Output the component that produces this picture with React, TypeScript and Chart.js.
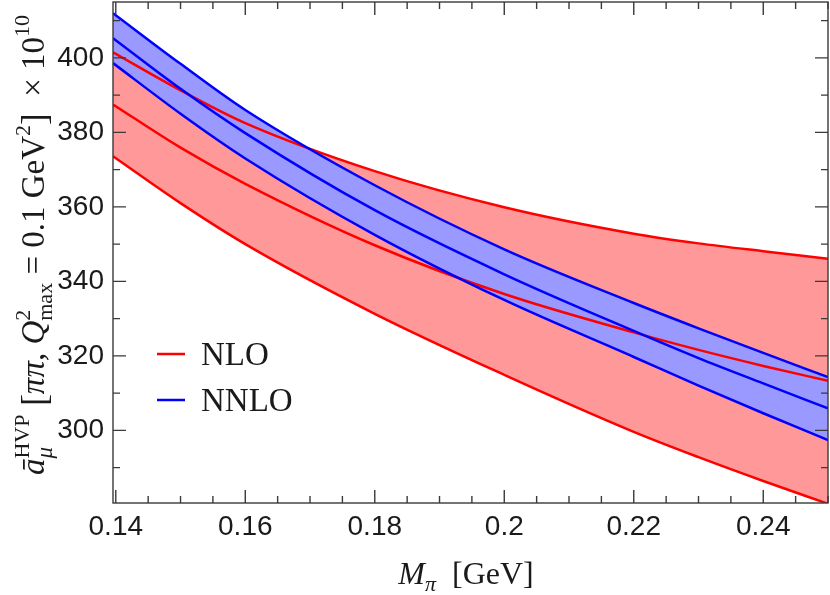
import { useEffect, useRef } from "react"
import { Chart, registerables, type ChartConfiguration, type Plugin } from "chart.js"

Chart.register(...registerables)

// pion mass grid (GeV) and band edges (x 10^10)
const mPi = [0.13957, 0.15, 0.16, 0.18, 0.2, 0.22, 0.23, 0.24, 0.25]

const nloUpper = [401.5, 391.3, 382.5, 369.6, 359.9, 352.8, 350.2, 348.1, 346.1]
const nloCentral = [387.5, 375.9, 366.2, 349.7, 336.6, 326.3, 321.6, 317.3, 313.3]
const nloLower = [373.6, 361.0, 350.0, 331.3, 314.9, 299.6, 292.8, 286.4, 280.3]

const nnloUpper = [412.0, 398.4, 386.0, 365.8, 348.6, 334.2, 327.4, 320.8, 314.3]
const nnloCentral = [405.3, 391.7, 379.8, 359.1, 341.9, 326.7, 319.4, 312.6, 305.9]
const nnloLower = [398.6, 385.0, 373.0, 352.5, 335.0, 319.7, 312.0, 304.6, 297.4]

const xTicks = [0.14, 0.16, 0.18, 0.2, 0.22, 0.24]
const yTicks = [300, 320, 340, 360, 380, 400]
const xMinorTicks = Array.from({ length: 23 }, (_, i) => +(0.14 + i * 0.005).toFixed(3))
const yMinorTicks = [290, 300, 310, 320, 330, 340, 350, 360, 370, 380, 390, 400, 410]
const legendOrder = ["NLO", "NNLO"]

const RED = "#ff0000"
const BLUE = "#0000ff"
const RED_FILL = "#ff9999"
const BLUE_FILL = "#9999ff"
const TEXT = "#1a1a1a"
const SANS = "'Liberation Sans', Arial, sans-serif"
const SERIF = "'Liberation Serif', 'Times New Roman', serif"

const pts = (ys: number[]) => mPi.map((x, i) => ({ x, y: ys[i] }))

type Part = { text: string; font: string; dy?: number; stack?: boolean }

function drawRich(ctx: CanvasRenderingContext2D, parts: Part[]) {
  // lay out left to right, "stack" parts start where the previous one started
  let x = 0
  let prevStart = 0
  let prevW = 0
  const placed: { p: Part; x: number }[] = []
  for (const p of parts) {
    ctx.font = p.font
    const w = ctx.measureText(p.text).width
    if (p.stack) {
      placed.push({ p, x: prevStart })
      prevW = Math.max(prevW, w)
      x = prevStart + prevW
    } else {
      placed.push({ p, x })
      prevStart = x
      prevW = w
      x += w
    }
  }
  const start = -x / 2
  for (const { p, x: px } of placed) {
    ctx.font = p.font
    ctx.fillText(p.text, start + px, p.dy ?? 0)
  }
}

const big = (s: number, it = false) => `${it ? "italic " : ""}${s}px ${SERIF}`

const yTitle: Part[] = [
  { text: "ā", font: big(33, true) },
  { text: "HVP", font: big(22), dy: -15 },
  { text: "μ", font: big(23, true), dy: 8, stack: true },
  { text: " [", font: big(35), dy: 2 },
  { text: "ππ, ", font: big(33, true) },
  { text: "Q", font: big(33, true) },
  { text: "2", font: big(22), dy: -14 },
  { text: "max", font: big(22), dy: 8, stack: true },
  { text: " = 0.1 GeV", font: big(33) },
  { text: "2", font: big(22), dy: -14 },
  { text: "]", font: big(35), dy: 2 },
  { text: "  × 10", font: big(33) },
  { text: "10", font: big(22), dy: -15 },
]

const xTitle: Part[] = [
  { text: "M", font: big(32, true) },
  { text: "π", font: big(22, true), dy: 7 },
  { text: "  [GeV]", font: big(32) },
]

const decorations: Plugin = {
  id: "decorations",
  afterDatasetsDraw(chart) {
    const { ctx, chartArea: a, scales } = chart
    const xs = scales.x
    const ys = scales.y
    ctx.save()
    ctx.strokeStyle = "#3a3a3a"
    ctx.lineWidth = 1.4
    ctx.strokeRect(a.left, a.top, a.right - a.left, a.bottom - a.top)

    // inward ticks on all four sides
    ctx.beginPath()
    for (const v of xMinorTicks) {
      const len = xTicks.some((t) => Math.abs(t - v) < 1e-9) ? 13 : 7
      const px = xs.getPixelForValue(v)
      ctx.moveTo(px, a.bottom)
      ctx.lineTo(px, a.bottom - len)
      ctx.moveTo(px, a.top)
      ctx.lineTo(px, a.top + len)
    }
    for (const v of yMinorTicks) {
      const len = yTicks.includes(v) ? 13 : 7
      const py = ys.getPixelForValue(v)
      ctx.moveTo(a.left, py)
      ctx.lineTo(a.left + len, py)
      ctx.moveTo(a.right, py)
      ctx.lineTo(a.right - len, py)
    }
    ctx.stroke()

    // legend
    legendOrder.forEach((name, i) => {
      const d = chart.data.datasets.find((ds) => ds.label === name)
      if (!d) return
      const y = 354 + i * 46
      ctx.strokeStyle = d.borderColor as string
      ctx.lineWidth = 2.5
      ctx.beginPath()
      ctx.moveTo(157, y)
      ctx.lineTo(185, y)
      ctx.stroke()
      ctx.fillStyle = TEXT
      ctx.font = `33px ${SERIF}`
      ctx.textBaseline = "alphabetic"
      ctx.fillText(name, 201, y + 11)
    })

    // axis titles
    ctx.fillStyle = TEXT
    ctx.textBaseline = "alphabetic"
    ctx.save()
    ctx.translate(44, 245)
    ctx.rotate(-Math.PI / 2)
    drawRich(ctx, yTitle)
    ctx.restore()

    ctx.save()
    ctx.translate(466, 584)
    drawRich(ctx, xTitle)
    ctx.restore()
    ctx.restore()
  },
}

export default function App() {
  const canvasRef = useRef<HTMLCanvasElement>(null)
  const chartRef = useRef<Chart | null>(null)

  useEffect(() => {
    if (!canvasRef.current) return
    if (chartRef.current) chartRef.current.destroy()

    const line = (label: string | undefined, ys: number[], color: string, fill: any = false, fillColor = "transparent") => ({
      label,
      data: pts(ys),
      borderColor: color,
      backgroundColor: fillColor,
      borderWidth: 2.5,
      pointRadius: 0,
      cubicInterpolationMode: "monotone" as const,
      fill,
    })

    // fills are drawn last-to-first, lines too: NLO band goes under NNLO band
    const config: ChartConfiguration<"line"> = {
      type: "line",
      data: {
        datasets: [
          line("NNLO", nnloCentral, BLUE),
          line(undefined, nnloUpper, BLUE, "+1", BLUE_FILL),
          line(undefined, nnloLower, BLUE),
          line("NLO", nloCentral, RED),
          line(undefined, nloUpper, RED, "+1", RED_FILL),
          line(undefined, nloLower, RED),
        ] as any,
      },
      options: {
        responsive: false,
        animation: false,
        layout: { padding: { top: 2, right: 2, left: 0, bottom: 0 } },
        scales: {
          x: {
            type: "linear",
            min: 0.13957,
            max: 0.25,
            grid: { display: false, drawTicks: false },
            border: { display: false },
            ticks: {
              padding: 7,
              color: TEXT,
              font: { family: SANS, size: 28 },
              callback: (v) => String(v),
            },
            afterBuildTicks: (s) => {
              s.ticks = xTicks.map((value) => ({ value }))
            },
            afterFit: (s) => {
              s.height = 92
              s.paddingLeft = 0
              s.paddingRight = 0
            },
          },
          y: {
            min: 280.5,
            max: 415,
            grid: { display: false, drawTicks: false },
            border: { display: false },
            ticks: {
              padding: 9,
              color: TEXT,
              font: { family: SANS, size: 28 },
            },
            afterBuildTicks: (s) => {
              s.ticks = yTicks.map((value) => ({ value }))
            },
            afterFit: (s) => {
              s.width = 113
              s.paddingTop = 0
              s.paddingBottom = 0
            },
          },
        },
        plugins: {
          legend: { display: false },
          tooltip: { enabled: false },
          filler: { drawTime: "beforeDatasetsDraw" },
        },
      },
      plugins: [decorations],
    }

    chartRef.current = new Chart(canvasRef.current, config)

    return () => {
      if (chartRef.current) {
        chartRef.current.destroy()
        chartRef.current = null
      }
    }
  }, [])

  return (
    <div style={{ position: "absolute", left: 0, top: 0, width: 830, height: 595, background: "#fff" }}>
      <canvas ref={canvasRef} width={830} height={595} style={{ display: "block" }} />
    </div>
  )
}
